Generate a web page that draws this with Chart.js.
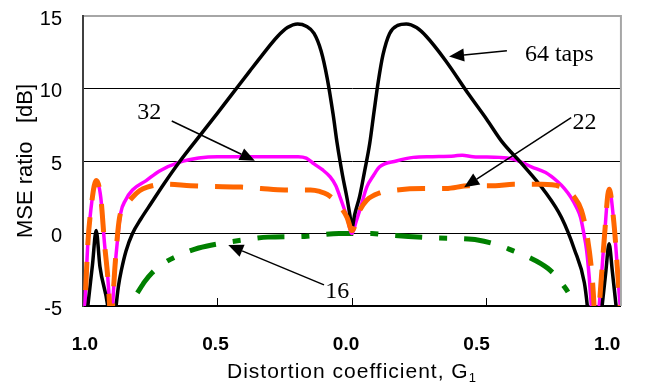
<!DOCTYPE html>
<html>
<head>
<meta charset="utf-8">
<script src="https://cdn.jsdelivr.net/npm/chart.js@4.4.1/dist/chart.umd.min.js"></script>
<style>
  html, body { margin: 0; padding: 0; background: #fff; }
</style>
</head>
<body>
<canvas id="mseChart" width="648" height="385"></canvas>
<script>
// distortion coefficient G1 (signed position along the axis) and MSE ratio [dB]
const taps64X = [-0.99, -0.982, -0.965, -0.951, -0.937, -0.908, -0.9, -0.885, -0.877, -0.868, -0.857, -0.84, -0.816, -0.785, -0.746, -0.7, -0.643, -0.559, -0.5, -0.438, -0.38, -0.338, -0.276, -0.24, -0.202, -0.17, -0.141, -0.115, -0.092, -0.07, -0.055, -0.035, -0.018, -0.008, 0, 0.01, 0.029, 0.046, 0.066, 0.082, 0.098, 0.115, 0.14, 0.17, 0.202, 0.24, 0.276, 0.349, 0.434, 0.5, 0.559, 0.632, 0.717, 0.779, 0.827, 0.864, 0.875, 0.882, 0.92, 0.93, 0.944, 0.956, 0.968, 0.982, 0.99];
const taps64Y = [-6.5, -5, -2.2, 0.2, -2.3, -5, -6.5, -6.5, -5, -3.6, -2.5, -1.2, 0, 1.0, 2.1, 3.4, 4.9, 6.9, 8.3, 9.8, 11.2, 12.2, 13.6, 14.2, 14.45, 14.3, 13.8, 12.6, 10.7, 8.2, 6.2, 4.0, 2.4, 1.3, 0.4, 1.3, 2.6, 4.2, 6.2, 8.4, 10.5, 12.3, 13.8, 14.35, 14.45, 14.2, 13.6, 11.9, 9.6, 7.9, 6.3, 4.8, 2.9, 1.1, -1.1, -3.4, -5, -6.5, -6.5, -5, -2.6, -0.7, -2.6, -5, -6.5];

const taps32X = [-1.0, -0.993, -0.982, -0.971, -0.951, -0.934, -0.92, -0.908, -0.901, -0.896, -0.89, -0.882, -0.871, -0.86, -0.842, -0.816, -0.765, -0.717, -0.643, -0.57, -0.5, -0.35, -0.2, -0.17, -0.141, -0.11, -0.081, -0.06, -0.044, -0.018, 0, 0.015, 0.029, 0.055, 0.08, 0.103, 0.165, 0.228, 0.3, 0.38, 0.41, 0.45, 0.55, 0.596, 0.632, 0.667, 0.72, 0.763, 0.79, 0.814, 0.835, 0.85, 0.862, 0.872, 0.882, 0.89, 0.897, 0.905, 0.919, 0.9375, 0.956, 0.974, 0.995, 1.0];
const taps32Y = [-7, -5, -0.7, 1.6, 3.65, 2.5, -0.7, -3, -5, -7, -5, -2.6, -0.3, 1.4, 2.3, 3.0, 3.65, 4.3, 4.9, 5.2, 5.3, 5.3, 5.3, 5.2, 4.8, 4.4, 3.9, 3.3, 2.5, 1.1, 0, 0.8, 1.6, 3.2, 4.0, 4.6, 5.0, 5.25, 5.3, 5.35, 5.4, 5.3, 5.25, 5.15, 4.9, 4.6, 4.2, 3.6, 3.1, 2.5, 1.8, 1.1, 0, -1.1, -3, -5, -7, -7, -5, -0.5, 3.1, 0.7, -4.5, -5.5];

const taps22X = [-1.0, -0.993, -0.982, -0.971, -0.951, -0.934, -0.92, -0.908, -0.901, -0.896, -0.89, -0.882, -0.864, -0.842, -0.816, -0.79, -0.761, -0.695, -0.6, -0.533, -0.412, -0.338, -0.25, -0.154, -0.12, -0.092, -0.055, -0.018, 0, 0.029, 0.055, 0.103, 0.165, 0.265, 0.349, 0.434, 0.533, 0.6, 0.706, 0.779, 0.827, 0.853, 0.875, 0.893, 0.9, 0.905, 0.919, 0.9375, 0.956, 0.974, 0.995, 1.0];
const taps22Y = [-7, -5, -0.7, 1.6, 3.65, 2.5, -0.7, -3, -5, -7, -5, -2.5, 1.1, 1.9, 2.5, 2.95, 3.2, 3.4, 3.3, 3.25, 3.2, 3.1, 3.0, 3.0, 2.9, 2.7, 2.1, 1.1, 0.2, 1.6, 2.3, 2.8, 3.0, 3.1, 3.1, 3.3, 3.3, 3.4, 3.4, 3.2, 2.5, 1.6, -0.25, -3, -5, -7, -5, -0.5, 3.05, 0.7, -4.5, -5.5];

const taps16X = [-0.798, -0.77, -0.743, -0.695, -0.643, -0.57, -0.485, -0.386, -0.3125, -0.176, -0.048, 0.074, 0.129, 0.21, 0.316, 0.4, 0.467, 0.544, 0.6, 0.654, 0.728, 0.779, 0.827, 0.835];
const taps16Y = [-4.1, -3.3, -2.7, -2.0, -1.5, -1.0, -0.67, -0.4, -0.25, -0.2, 0, 0, -0.1, -0.2, -0.3, -0.35, -0.45, -0.8, -1.2, -1.6, -2.4, -3.4, -5, -5.6];

const xTickValues = [-1, -0.5, 0, 0.5, 1];
const yTickValues = [-5, 0, 5, 10, 15];

// callout labels with their arrows, in data units
const callouts = [
    { text: '64 taps', x: 0.643, y: 11.87, fromX: 0.576, fromY: 12.6, toX: 0.361, toY: 12.21 },
    { text: '22', x: 0.82, y: 7.21, fromX: 0.815, fromY: 7.99, toX: 0.417, toY: 3.19 },
    { text: '32', x: -0.798, y: 7.9, fromX: -0.67, fromY: 7.76, toX: -0.361, toY: 5.02 },
    { text: '16', x: -0.099, y: -4.43, fromX: -0.104, fromY: -3.54, toX: -0.46, toY: -0.8 }
];

function points(xs, ys) {
    return xs.map((x, i) => ({ x: x, y: ys[i] }));
}

const lineBase = {
    pointRadius: 0,
    fill: false,
    cubicInterpolationMode: 'monotone',
    borderCapStyle: 'butt',
    borderJoinStyle: 'round',
    clip: 0
};

const extras = {
    id: 'extras',
    afterDatasetsDraw(chart) {
        const { ctx, chartArea: a, scales: { x, y } } = chart;
        ctx.save();

        // grey right frame
        ctx.strokeStyle = '#a6a6a6';
        ctx.lineWidth = 2;
        ctx.beginPath();
        ctx.moveTo(a.right, a.top - 1);
        ctx.lineTo(a.right, a.bottom);
        ctx.stroke();

        // small tick marks pointing into the plot
        ctx.strokeStyle = '#000';
        ctx.lineWidth = 1;
        [-0.5, 0, 0.5].forEach(v => {
            const px = Math.round(x.getPixelForValue(v)) + 0.5;
            ctx.beginPath();
            ctx.moveTo(px, a.bottom);
            ctx.lineTo(px, a.bottom - 8);
            ctx.stroke();
        });

        // callouts
        ctx.fillStyle = '#000';
        ctx.lineWidth = 1.5;
        callouts.forEach(c => {
            const x0 = x.getPixelForValue(c.fromX), y0 = y.getPixelForValue(c.fromY);
            const x1 = x.getPixelForValue(c.toX), y1 = y.getPixelForValue(c.toY);
            const ang = Math.atan2(y1 - y0, x1 - x0);
            const len = 15, half = 6.5;
            const bx = x1 - Math.cos(ang) * len, by = y1 - Math.sin(ang) * len;
            ctx.beginPath();
            ctx.moveTo(x0, y0);
            ctx.lineTo(bx, by);
            ctx.stroke();
            ctx.beginPath();
            ctx.moveTo(x1, y1);
            ctx.lineTo(bx + Math.sin(ang) * half, by - Math.cos(ang) * half);
            ctx.lineTo(bx - Math.sin(ang) * half, by + Math.cos(ang) * half);
            ctx.closePath();
            ctx.fill();

            ctx.font = '24px "Liberation Serif"';
            ctx.textBaseline = 'alphabetic';
            ctx.textAlign = 'left';
            ctx.fillText(c.text, x.getPixelForValue(c.x), y.getPixelForValue(c.y));
        });
        ctx.restore();
    },
    afterDraw(chart) {
        // x axis title with a subscript index
        const { ctx, chartArea: a } = chart;
        ctx.save();
        ctx.fillStyle = '#000';
        ctx.textBaseline = 'alphabetic';
        ctx.textAlign = 'left';
        if ('letterSpacing' in ctx) ctx.letterSpacing = '1px';
        const main = 'Distortion coefficient, G';
        ctx.font = '21px "Liberation Sans"';
        const w1 = ctx.measureText(main).width;
        ctx.font = '13px "Liberation Sans"';
        const w2 = ctx.measureText('1').width;
        const cx = (a.left + a.right) / 2;
        const start = cx - (w1 + w2) / 2;
        ctx.font = '21px "Liberation Sans"';
        ctx.fillText(main, start, 378);
        ctx.font = '13px "Liberation Sans"';
        ctx.fillText('1', start + w1, 382);
        ctx.restore();
    }
};

new Chart(document.getElementById('mseChart').getContext('2d'), {
    type: 'line',
    data: {
        datasets: [
            Object.assign({}, lineBase, {
                label: '22',
                data: points(taps22X, taps22Y),
                borderColor: 'rgb(255, 102, 0)',
                borderWidth: 5,
                borderDash: [28, 17]
            }),
            Object.assign({}, lineBase, {
                label: '64 taps',
                data: points(taps64X, taps64Y),
                borderColor: '#000',
                borderWidth: 3.5
            }),
            Object.assign({}, lineBase, {
                label: '32',
                data: points(taps32X, taps32Y),
                borderColor: 'rgb(255, 0, 255)',
                borderWidth: 3.5
            }),
            Object.assign({}, lineBase, {
                label: '16',
                data: points(taps16X, taps16Y),
                borderColor: 'rgb(0, 128, 0)',
                borderWidth: 5,
                borderDash: [27, 17, 8, 17]
            })
        ]
    },
    options: {
        responsive: false,
        animation: false,
        devicePixelRatio: 1,
        layout: { padding: { left: 0, right: 21, top: 16, bottom: 0 } },
        plugins: {
            legend: { display: false },
            tooltip: { enabled: false }
        },
        scales: {
            x: {
                type: 'linear',
                display: false,
                min: -1,
                max: 1
            },
            xLabels: {
                type: 'linear',
                axis: 'x',
                position: 'bottom',
                min: -1.0076,
                max: 1.053,
                afterFit: scale => { scale.height = 79; },
                afterBuildTicks: scale => {
                    scale.ticks = xTickValues.map(v => ({ value: v }));
                },
                grid: { display: false, drawTicks: false },
                border: { display: true, color: '#000', width: 2 },
                ticks: {
                    autoSkip: false,
                    maxRotation: 0,
                    padding: 27,
                    color: '#000',
                    font: { family: '"Liberation Sans"', size: 19, weight: 'bold' },
                    callback: v => Math.abs(v).toFixed(1)
                }
            },
            y: {
                min: -5,
                max: 15,
                afterFit: scale => {
                    scale.width = 83;
                    scale.paddingTop = 12;
                    scale.paddingBottom = 12;
                },
                afterBuildTicks: scale => {
                    scale.ticks = yTickValues.map(v => ({ value: v }));
                },
                grid: {
                    drawTicks: false,
                    color: c => (c.tick && c.tick.value === 15) ? '#a6a6a6' : '#000',
                    lineWidth: c => (c.tick && c.tick.value === 15) ? 2 : 1
                },
                border: { display: true, color: '#404040', width: 2 },
                ticks: {
                    padding: 21,
                    labelOffset: 3,
                    color: '#000',
                    font: { family: '"Liberation Sans"', size: 20 }
                },
                title: {
                    display: true,
                    text: 'MSE ratio   [dB]',
                    color: '#000',
                    font: { family: '"Liberation Sans"', size: 22 },
                    padding: { top: 13, bottom: 0 }
                }
            }
        }
    },
    plugins: [extras]
});
</script>
</body>
</html>
